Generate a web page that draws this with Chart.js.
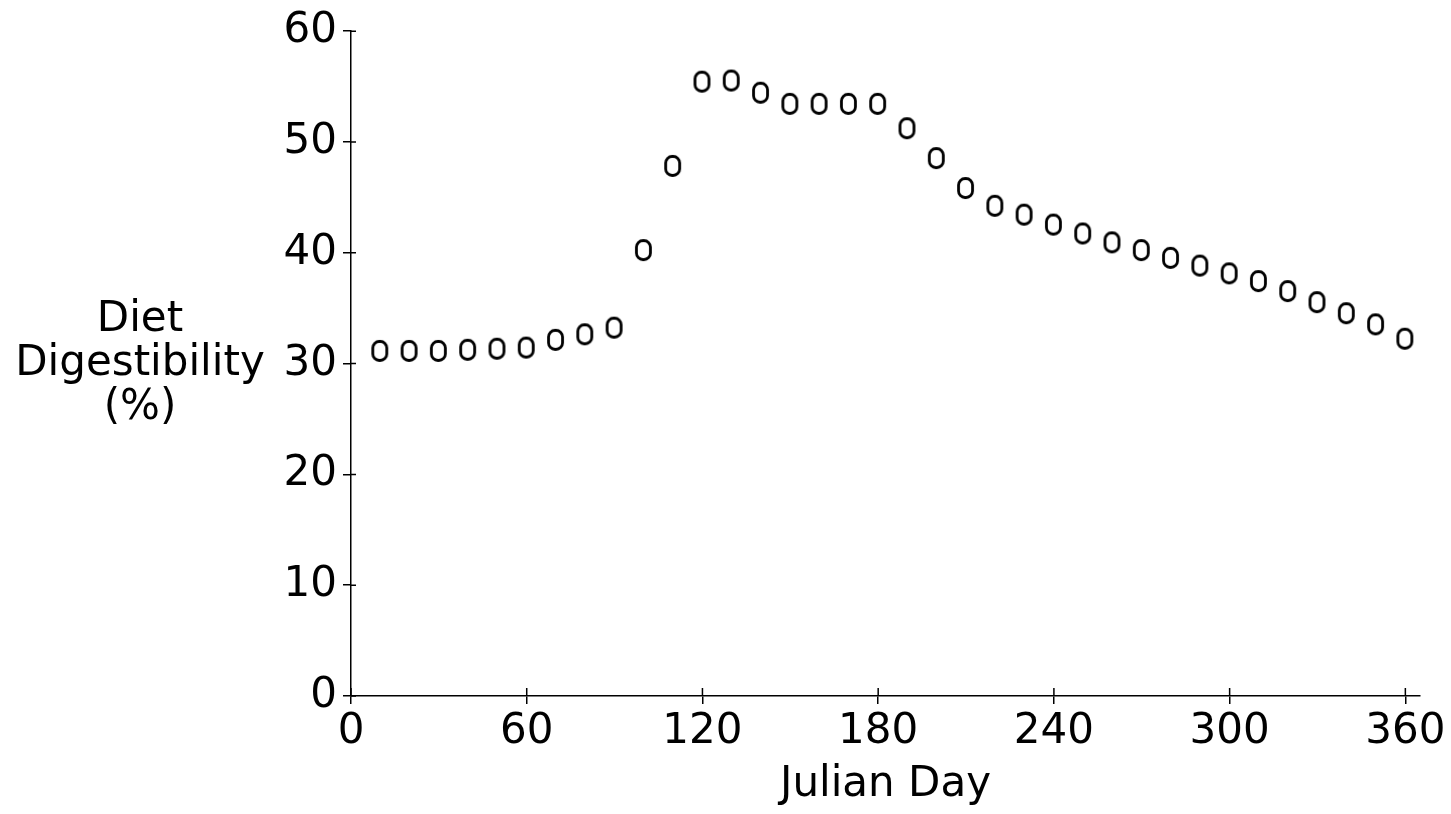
<!DOCTYPE html>
<html>
<head>
<meta charset="utf-8">
<script src="https://cdn.jsdelivr.net/npm/chart.js@4/dist/chart.umd.min.js"></script>
<style>
  html, body { margin: 0; padding: 0; background: #fff; }
  #chart { display: block; }
</style>
</head>
<body>
<canvas id="chart" width="1451" height="814"></canvas>
<script>
// Julian day of each sample
const julianDays = [10, 20, 30, 40, 50, 60, 70, 80, 90, 100, 110, 120,
  130, 140, 150, 160, 170, 180, 190, 200, 210, 220, 230, 240,
  250, 260, 270, 280, 290, 300, 310, 320, 330, 340, 350, 360];

// diet digestibility (%)
const digestibility = [31.1, 31.1, 31.1, 31.2, 31.3, 31.4, 32.1, 32.6, 33.2, 40.2, 47.8, 55.4,
  55.5, 54.4, 53.4, 53.4, 53.4, 53.4, 51.2, 48.5, 45.8, 44.2, 43.4, 42.5,
  41.7, 40.9, 40.2, 39.5, 38.8, 38.1, 37.4, 36.5, 35.5, 34.5, 33.5, 32.2];

const xTicks = [0, 60, 120, 180, 240, 300, 360];
const yTitleLines = ['Diet', 'Digestibility', '(%)'];

const FONT = { family: "'DejaVu Sans', sans-serif", size: 42 };

// "0"-shaped open marker
function makeMarker() {
  const c = document.createElement('canvas');
  c.width = 20; c.height = 25;
  const g = c.getContext('2d');
  g.strokeStyle = '#000';
  g.lineWidth = 2.8;
  g.beginPath();
  g.roundRect(2.5, 2.5, 14, 19, 6.5);
  g.stroke();
  return c;
}

// y title is horizontal, three lines, centred on the 30 tick
const yTitlePlugin = {
  id: 'yTitle',
  afterDraw(chart) {
    const ctx = chart.ctx;
    const mid = chart.scales.y.getPixelForValue(30);
    ctx.save();
    ctx.fillStyle = '#000';
    ctx.font = FONT.size + 'px ' + FONT.family;
    ctx.textAlign = 'center';
    ctx.textBaseline = 'middle';
    yTitleLines.forEach((t, i) => ctx.fillText(t, 140, mid + (i - 1) * 44));
    ctx.restore();
  }
};

// small tick marks on the inside of the axes too
const innerTicks = {
  id: 'innerTicks',
  afterDraw(chart) {
    const { ctx, scales: { x, y } } = chart;
    ctx.save();
    ctx.strokeStyle = '#000';
    ctx.lineWidth = 1.5;
    ctx.beginPath();
    x.ticks.forEach(t => {
      const px = x.getPixelForValue(t.value);
      ctx.moveTo(px, y.bottom); ctx.lineTo(px, y.bottom - 8);
    });
    y.ticks.forEach(t => {
      const py = y.getPixelForValue(t.value);
      ctx.moveTo(x.left, py); ctx.lineTo(x.left + 5, py);
    });
    ctx.stroke();
    ctx.restore();
  }
};

new Chart(document.getElementById('chart'), {
  type: 'scatter',
  data: {
    datasets: [{
      data: julianDays.map((d, i) => ({ x: d, y: digestibility[i] })),
      pointStyle: makeMarker(),
      showLine: false
    }]
  },
  options: {
    responsive: false,
    animation: false,
    devicePixelRatio: 1,
    layout: { padding: { top: 28, right: 31, bottom: 0, left: 0 } },
    plugins: { legend: { display: false }, tooltip: { enabled: false } },
    scales: {
      x: {
        type: 'linear',
        min: 0,
        max: 365,
        afterBuildTicks: s => { s.ticks = xTicks.map(v => ({ value: v })); },
        afterFit: s => { s.height = 118; },
        ticks: { font: FONT, color: '#000', padding: 3, maxRotation: 0 },
        grid: { drawOnChartArea: false, tickLength: 8, color: '#000', lineWidth: 1.5 },
        border: { color: '#000', width: 1.5 },
        title: { display: true, text: 'Julian Day', font: FONT, color: '#000', padding: { top: 0, bottom: 4 } }
      },
      y: {
        min: 0,
        max: 60,
        afterFit: s => { s.width = 351; },
        ticks: { stepSize: 10, font: FONT, color: '#000', padding: 6 },
        grid: { drawOnChartArea: false, tickLength: 8, color: '#000', lineWidth: 1.5 },
        border: { color: '#000', width: 1.5 }
      }
    }
  },
  plugins: [yTitlePlugin, innerTicks]
});
</script>
</body>
</html>
